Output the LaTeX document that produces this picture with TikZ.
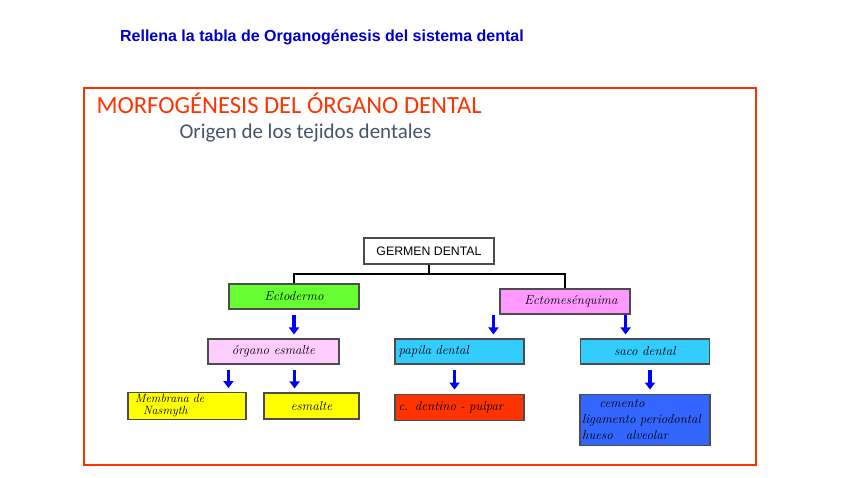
\documentclass[tikz,border=0pt]{standalone}
\usepackage{fontspec}
\usepackage{tikz}
\usetikzlibrary{arrows.meta,positioning}
\newfontfamily\arialfont{Liberation Sans}
\newfontfamily\calibrifont{Carlito}
\definecolor{tituloazul}{RGB}{0,0,204}
\definecolor{rojotitulo}{RGB}{255,51,0}
\definecolor{grisazul}{RGB}{68,84,106}
\definecolor{verdecaja}{RGB}{102,255,51}
\definecolor{rosacaja}{RGB}{255,153,255}
\definecolor{rosaclaro}{RGB}{255,204,255}
\definecolor{cyancaja}{RGB}{51,204,255}
\definecolor{amarillocaja}{RGB}{255,255,0}
\definecolor{naranjacaja}{RGB}{255,51,0}
\definecolor{azulcaja}{RGB}{51,102,255}

\begin{document}
\begin{tikzpicture}
  [
   x=1pt,y=-1pt,
   node distance=29pt and 12pt,
   caja/.style={rectangle,draw=black!70,line width=1.1pt,inner sep=2pt,
                minimum height=25pt,font=\fontsize{13}{14}\selectfont\itshape},
   gn/.style={caja,fill=verdecaja,minimum width=130pt},
   pn/.style={caja,fill=rosacaja,minimum width=130pt},
   lpn/.style={caja,fill=rosaclaro,minimum width=131pt},
   cn/.style={caja,fill=cyancaja,minimum width=129pt},
   yn/.style={caja,fill=amarillocaja,minimum height=26pt},
   on/.style={caja,fill=naranjacaja,minimum width=129pt,minimum height=26pt},
   bn/.style={caja,fill=azulcaja,minimum width=130pt,minimum height=51pt},
   flecha/.style={blue,line width=3.5pt,-{Triangle[length=7pt,width=10pt]},shorten >=4pt},
   llave/.style={line width=1.6pt}
  ]
   \useasboundingbox (0,0) rectangle (848,477);

   \node[font=\arialfont\bfseries\fontsize{16}{18}\selectfont,text=tituloazul]
        (instr) at (322,37) {Rellena la tabla de Organogénesis del sistema dental};
   \draw[rojotitulo,line width=1.3pt] (84,88) rectangle (756,465);
   \node[font=\calibrifont\fontsize{24.6}{27}\selectfont,text=rojotitulo,anchor=west]
        (titulo) at (93,103) {MORFOGÉNESIS DEL ÓRGANO DENTAL};
   \node[font=\calibrifont\fontsize{21}{23}\selectfont,text=grisazul,anchor=west]
        (subtit) at (176,133) {Origen de los tejidos dentales};

   \node[rectangle,draw=black!70,line width=1.1pt,fill=white,minimum width=130pt,
         minimum height=26pt,font=\arialfont\fontsize{12.3}{14}\selectfont]
        (germen) at (429,251) {GERMEN DENTAL};
   \node[gn]  (ecto)    at (294,296.5) {Ectodermo};
   \node[pn]  (ectomes) at (565,301.5) {\hspace{12pt}Ectomesénquima};
   \node[lpn] (organo)  at (273.5,351.5) {órgano esmalte};
   \node[cn,text width=122pt] (papila)  at (459.5,351.5) {papila dental};
   \node[cn]  (saco)    at (645,351.5) {saco dental};
   \node[yn,minimum width=118pt,text width=112pt,align=left,
         font=\fontsize{12}{12}\selectfont\itshape]
        (membrana) at (187,406) {\ Membrana de\\ \quad Nasmyth};
   \node[yn,minimum width=95pt] (esmalte) at (311.5,406) {esmalte};
   \node[on,text width=122pt]  (dentino) [below=of papila] {c. dentino - pulpar};
   \node[bn,text width=126pt,align=left,font=\fontsize{13}{16}\selectfont\itshape]
        (cemento) [below=of saco] {\quad\ cemento\\ligamento periodontal\\hueso\quad alveolar};

   \coordinate (bar) at (429,274);
   \draw[llave] (germen.south) -- (bar);
   \draw[llave] (ecto.north) |- (bar) -| (ectomes.north);

   \draw[flecha,shorten <=5pt] (ecto.south) -- (ecto.south |- organo.north);
   \draw[flecha] ([xshift=-6pt]ectomes.south west) -- ([xshift=-6pt]ectomes.south west |- papila.north);
   \draw[flecha] ([xshift=-5pt]ectomes.south east) -- ([xshift=-5pt]ectomes.south east |- saco.north);
   \draw[flecha,shorten <=5pt] ([xshift=21pt]organo.south west) -- ([xshift=21pt]organo.south west |- membrana.north);
   \draw[flecha,shorten <=5pt] ([xshift=-45pt]organo.south east) -- ([xshift=-45pt]organo.south east |- esmalte.north);
   \draw[flecha,shorten <=5pt] ([xshift=-5pt]papila.south) -- ([xshift=-5pt]papila.south |- dentino.north);
   \draw[flecha,shorten <=5pt] ([xshift=5pt]saco.south) -- ([xshift=5pt]saco.south |- cemento.north);

\end{tikzpicture}
\end{document}
